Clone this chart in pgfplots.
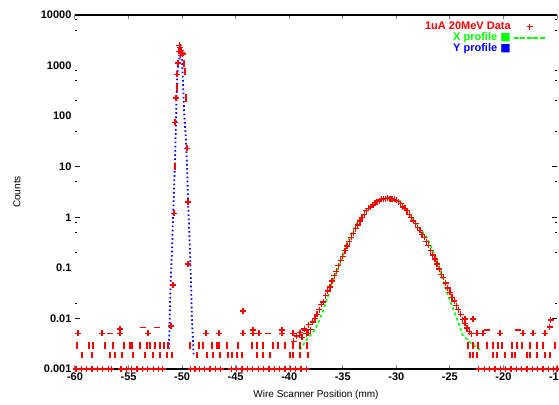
\documentclass[border=0pt]{standalone}
\usepackage{fontspec}
\setmainfont{Liberation Sans}
\newfontfamily\djv{DejaVu Sans}
\usepackage{pgfplots}
\pgfplotsset{compat=1.18}
\newcommand\f{\fontsize{11}{12}\selectfont\bfseries}
\definecolor{gpred}{RGB}{255,0,0}
\definecolor{gpgreen}{RGB}{0,255,0}
\definecolor{gpblue}{RGB}{0,0,255}
\begin{document}
\begin{tikzpicture}
\begin{axis}[
  at={(0pt,0pt)}, anchor=south west,
  scale only axis, width=482pt, height=354pt,
  xmin=-60, xmax=-15, ymode=log, ymin=0.001, ymax=10000,
  separate axis lines,
  y axis line style={draw=none},
  x axis line style={line width=1.4pt},
  tick align=inside,
  xtick pos=both, ytick pos=both,
  xticklabel pos=bottom, yticklabel pos=left,
  xtick={-60,-55,-50,-45,-40,-35,-30,-25,-20,-15},
  xticklabels={-60,-55,-50,-45,-40,-35,-30,-25,-20,-15},
  ytick={0.001,0.01,0.1,1,10,100,1000,10000},
  yticklabels={0.001,0.01,0.1,1,10,100,1000,10000},
  major y tick style={draw=none},
  minor ytick={10000,10,1,0.01},
  minor tick length=5pt,
  minor y tick style={draw=black, line width=1pt},
  extra y ticks={8000,5000,800,500,200,50,5,0.8,0.5,0.2,0.02},
  extra y tick labels={},
  extra y tick style={major tick length=2.5pt, major y tick style={draw=black, line width=1pt}},
  major tick length=4pt,
  major x tick style={line width=1pt},
  ticklabel style={font=\f},
  xlabel={Wire Scanner Position (mm)},
  ylabel={Counts},
  label style={font=\f},
  every axis x label/.style={at={(axis description cs:0.5,-0.0734)}, anchor=center},
  every axis y label/.style={at={(axis description cs:-0.1203,0.5)}, rotate=90, anchor=center},
  legend style={draw=none, fill=none, at={(rel axis cs:0.979,0.986)}, anchor=north east,
    font=\f, row sep=-2.5pt, inner sep=0pt},
  legend cell align=right, legend plot pos=right,
]
% main red data points
\addplot[only marks, mark=+, mark size=3pt, gpred, line width=1.3pt,
  legend image code/.code={\draw[gpred,line width=1.3pt] (16pt,-3pt)--(16pt,3pt) (13pt,0pt)--(19pt,0pt); \path (0pt,0pt) (32pt,0pt);}]
coordinates {
% narrow peak
(-50.25,2500) (-50.20,2300) (-50.10,2000) (-50.30,1900) (-50.15,1600) (-50.05,1800) (-49.95,1700)
(-50.38,1120) (-50.48,676) (-50.57,228) (-50.66,76) (-49.54,23) (-49.45,2) (-50.76,1.2)
(-49.45,0.12) (-50.85,0.046) (-51.04,0.0071)
% wide peak
(-39.6,0.0035) (-39.3,0.0045) (-39.0,0.0052) (-38.8,0.0042) (-38.6,0.0062) (-38.4,0.0050)
(-38.2,0.0075) (-38.0,0.0060) (-37.8,0.0085) (-37.6,0.0100) (-37.4,0.0120) (-37.2,0.0150)
(-37.0,0.0190) (-36.8,0.0210) (-36.6,0.0280) (-36.4,0.0350) (-36.2,0.0420) (-36.0,0.0550)
(-35.8,0.0700) (-35.6,0.0850) (-35.4,0.110) (-35.2,0.140) (-35.0,0.170) (-34.8,0.220)
(-34.6,0.270) (-34.4,0.330) (-34.2,0.400) (-34.0,0.480) (-33.8,0.600) (-33.6,0.700)
(-33.4,0.850) (-33.2,1.00) (-33.0,1.15) (-32.8,1.35) (-32.6,1.50) (-32.4,1.60)
(-32.2,1.75) (-32.0,1.95) (-31.8,2.05) (-31.6,2.10) (-31.4,2.25) (-31.2,2.30)
(-31.0,2.35) (-30.8,2.40) (-30.6,2.35) (-30.4,2.30) (-30.2,2.25) (-30.0,2.15)
(-29.8,2.05) (-29.6,1.85) (-29.4,1.60) (-29.2,1.50) (-29.0,1.35) (-28.8,1.15)
(-28.6,1.00) (-28.4,0.85) (-28.2,0.75) (-28.0,0.62) (-27.8,0.55) (-27.6,0.45)
(-27.4,0.40) (-27.2,0.33) (-27.0,0.28) (-26.8,0.22) (-26.6,0.18) (-26.4,0.15)
(-26.2,0.12) (-26.0,0.095) (-25.8,0.075) (-25.6,0.065) (-25.4,0.050) (-25.2,0.040)
(-25.0,0.033) (-24.8,0.026) (-24.6,0.022) (-24.4,0.018) (-24.2,0.015) (-24.0,0.012)
(-23.8,0.0095) (-23.6,0.0080) (-23.4,0.0065) (-23.2,0.0055) (-23.0,0.0050)
(-23.6,0.0097) (-22.83,0.0097)
% noise floor crosses
(-59.72,0.0051) (-57.48,0.0051) (-55.80,0.0051) (-55.80,0.0062) (-53.18,0.0051)
(-47.77,0.0051) (-46.55,0.0051) (-44.31,0.0051) (-44.31,0.014) (-43.38,0.0051) (-43.38,0.0059)
(-42.82,0.0051) (-40.67,0.0051) (-40.67,0.0059) (-39.65,0.0051) (-38.24,0.0051)
(-22.46,0.0051) (-21.90,0.0051) (-20.32,0.0051) (-18.17,0.0051) (-17.24,0.0051) (-16.12,0.0051)
(-15.6,0.0093) (-15.7,0.0068)
% zero-level points
(-59.9,0.001) (-59.4,0.001) (-58.9,0.001) (-58.4,0.001) (-57.9,0.001) (-57.4,0.001) (-56.9,0.001) (-56.6,0.001)
(-55.7,0.001) (-55.2,0.001) (-54.7,0.001) (-54.2,0.001) (-53.7,0.001) (-53.2,0.001) (-52.7,0.001) (-52.2,0.001) (-51.8,0.001)
(-49.2,0.001) (-48.8,0.001) (-48.4,0.001) (-47.9,0.001) (-47.4,0.001) (-46.9,0.001) (-46.4,0.001)
(-45.4,0.001) (-44.9,0.001) (-44.4,0.001) (-43.9,0.001) (-43.4,0.001) (-42.9,0.001) (-42.4,0.001)
(-41.9,0.001) (-41.4,0.001) (-40.9,0.001) (-40.4,0.001) (-39.9,0.001) (-39.4,0.001) (-38.9,0.001) (-38.4,0.001)
(-22.3,0.001) (-21.8,0.001) (-21.3,0.001) (-20.8,0.001) (-20.3,0.001) (-19.8,0.001) (-19.3,0.001)
(-18.8,0.001) (-18.3,0.001) (-17.8,0.001) (-17.3,0.001) (-16.8,0.001) (-16.3,0.001) (-15.8,0.001) (-15.3,0.001) (-15.0,0.001)
};
\addlegendentry{\textcolor{gpred}{1uA 20MeV Data}}
% horizontal dashes
\addplot[only marks, mark=-, mark size=3pt, gpred, line width=1.3pt, forget plot]
coordinates {
(-56.73,0.0051) (-53.65,0.0067) (-52.34,0.0067) (-41.98,0.0051) (-38.52,0.0059)
(-21.53,0.0059) (-18.64,0.0059)
};
% vertical dashes (upper row)
\addplot[only marks, mark=|, mark size=3.6pt, gpred, line width=1.3pt, forget plot]
coordinates {
(-59.81,0.00294) (-58.69,0.00294) (-58.32,0.00294) (-57.20,0.00294) (-56.45,0.00294)
(-55.42,0.00294) (-54.86,0.00294) (-54.68,0.00294) (-53.93,0.00294) (-53.28,0.00294)
(-53.00,0.00294) (-52.53,0.00294) (-52.06,0.00294) (-51.69,0.00294) (-51.32,0.00294)
(-49.26,0.00294) (-48.42,0.00294) (-48.05,0.00294) (-47.21,0.00294) (-46.74,0.00294)
(-46.55,0.00294) (-45.81,0.00294) (-44.78,0.00294) (-43.47,0.00294) (-43.01,0.00294)
(-42.45,0.00294) (-41.51,0.00294) (-41.05,0.00294) (-40.39,0.00294) (-39.65,0.00294)
(-38.99,0.00294) (-38.34,0.00294)
(-23.30,0.00294) (-22.83,0.00294) (-22.37,0.00294) (-21.53,0.00294) (-20.97,0.00294)
(-20.50,0.00294) (-20.13,0.00294) (-19.20,0.00294) (-18.73,0.00294) (-18.26,0.00294)
(-17.52,0.00294) (-16.86,0.00294) (-16.30,0.00294) (-15.18,0.00294)
(-49.82,1100) (-49.73,770) (-50.48,372) (-49.64,228) (-50.66,10)
};
% vertical dashes (lower row)
\addplot[only marks, mark=|, mark size=3pt, gpred, line width=1.3pt, forget plot]
coordinates {
(-59.35,0.00192) (-58.41,0.00192) (-56.73,0.00192) (-56.27,0.00192) (-55.61,0.00192)
(-54.58,0.00192) (-53.46,0.00192) (-52.72,0.00192) (-52.06,0.00192) (-51.41,0.00192)
(-50.94,0.00192) (-48.61,0.00192) (-47.68,0.00192) (-47.12,0.00192) (-46.46,0.00192)
(-45.71,0.00192) (-45.34,0.00192) (-44.87,0.00192) (-44.41,0.00192) (-43.01,0.00192)
(-42.45,0.00192) (-41.79,0.00192) (-39.93,0.00192) (-39.65,0.00192) (-38.99,0.00192)
(-38.24,0.00192)
(-23.12,0.00192) (-22.83,0.00192) (-22.46,0.00192) (-20.97,0.00192) (-20.60,0.00192)
(-19.85,0.00192) (-19.20,0.00192) (-18.92,0.00192) (-17.80,0.00192) (-17.52,0.00192)
(-16.86,0.00192) (-16.13,0.00192) (-15.65,0.00192)
};
% X profile (green)
\addplot[gpgreen, line width=1.6pt, dash pattern=on 3pt off 2.5pt,
  legend image code/.code={\draw[draw=gpgreen,line width=2pt,dash pattern=on 5pt off 1.5pt] (0pt,0pt)--(32pt,0pt);}]
coordinates {
(-39.0,0.0024) (-38.3,0.0040) (-37.6,0.0059) (-36.9,0.013) (-36.4,0.027) (-36.0,0.05)
(-35.7,0.072) (-35.1,0.14) (-34.6,0.31) (-33.7,0.77) (-32.7,1.39) (-31.8,2.1)
(-30.9,2.35) (-30.0,2.2) (-29.65,2.1) (-28.4,0.88) (-27.1,0.39) (-26.2,0.14)
(-25.6,0.05) (-25.0,0.023) (-24.3,0.0093) (-23.8,0.0047) (-23.0,0.0032) (-22.2,0.0024)
};
\addlegendentry{\textcolor{gpgreen}{X profile {\djv ■}}}
% Y profile (blue)
\addplot[gpblue, line width=1.8pt, dash pattern=on 1.6pt off 2.6pt,
  legend image code/.code={\path (0pt,0pt) (32pt,0pt);}]
coordinates {
(-51.25,0.0025) (-51.18,0.0059) (-51.13,0.020) (-51.05,0.06) (-50.99,0.142) (-50.94,0.225)
(-50.85,0.88) (-50.76,3.5) (-50.66,13.5) (-50.57,83) (-50.48,514) (-50.38,1020)
(-50.20,1600) (-50.01,1280) (-49.92,514) (-49.82,131) (-49.64,33.6) (-49.54,10.7)
(-49.45,2.2) (-49.36,0.7) (-49.27,0.225) (-49.17,0.05) (-49.08,0.0093) (-48.98,0.0037)
(-48.94,0.0019)
};
\addlegendentry{\textcolor{gpblue}{Y profile {\djv ■}}}
\end{axis}
\pgfresetboundingbox
\useasboundingbox (-75pt,-35pt) rectangle (484pt,369pt);
\end{tikzpicture}
\end{document}
